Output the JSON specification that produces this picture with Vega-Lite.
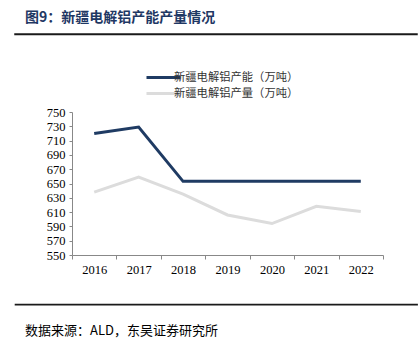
{
  "$schema": "https://vega.github.io/schema/vega-lite/v6.json",
  "background": "white",
  "padding": {"left": 14, "top": 10, "right": 4, "bottom": 0},
  "spacing": 25,
  "center": false,
  "resolve": {"legend": {"color": "independent"}},
  "config": {"view": {"stroke": null}, "legend": {"layout": {"top": {"anchor": "middle"}}}},
  "vconcat": [
    {
      "width": 402,
      "height": 0.5,
      "data": {"values": []},
      "mark": "point",
      "view": {"stroke": "#1a1a1a", "strokeWidth": 1.5},
      "title": {"text": "图9：新疆电解铝产能产量情况", "anchor": "start", "dx": 10, "offset": 9, "font": "Noto Sans CJK SC", "fontSize": 14, "fontWeight": "bold", "color": "#1F3864"}
    },
    {
      "resolve": {"legend": {"color": "independent"}},
      "spacing": 0,
      "hconcat": [
        {
          "width": 0.5,
          "height": 143,
          "data": {"values": []},
          "mark": "point"
        },
        {
          "width": 311,
          "height": 143,
          "data": {"values": [
            {"year": "2016", "series": "新疆电解铝产能（万吨）", "value": 720},
            {"year": "2017", "series": "新疆电解铝产能（万吨）", "value": 729},
            {"year": "2018", "series": "新疆电解铝产能（万吨）", "value": 653},
            {"year": "2019", "series": "新疆电解铝产能（万吨）", "value": 653},
            {"year": "2020", "series": "新疆电解铝产能（万吨）", "value": 653},
            {"year": "2021", "series": "新疆电解铝产能（万吨）", "value": 653},
            {"year": "2022", "series": "新疆电解铝产能（万吨）", "value": 653},
            {"year": "2016", "series": "新疆电解铝产量（万吨）", "value": 638},
            {"year": "2017", "series": "新疆电解铝产量（万吨）", "value": 659},
            {"year": "2018", "series": "新疆电解铝产量（万吨）", "value": 635},
            {"year": "2019", "series": "新疆电解铝产量（万吨）", "value": 606},
            {"year": "2020", "series": "新疆电解铝产量（万吨）", "value": 594},
            {"year": "2021", "series": "新疆电解铝产量（万吨）", "value": 618},
            {"year": "2022", "series": "新疆电解铝产量（万吨）", "value": 611}
          ]},
          "mark": {"type": "line", "strokeWidth": 3},
          "encoding": {
            "x": {"field": "year", "type": "ordinal", "scale": {"type": "band", "paddingInner": 0, "paddingOuter": 0},
              "axis": {"title": null, "minExtent": 23, "labelAngle": 0, "tickBand": "extent", "domainColor": "#888888", "tickColor": "#888888", "tickSize": 4, "labelFont": "Liberation Serif", "labelFontSize": 12.5, "labelColor": "#000000", "labelPadding": 4}},
            "y": {"field": "value", "type": "quantitative", "scale": {"domain": [550, 750], "zero": false, "nice": false},
              "axis": {"title": null, "minExtent": 55.5, "values": [550, 570, 590, 610, 630, 650, 670, 690, 710, 730, 750], "grid": false, "domainColor": "#888888", "tickColor": "#888888", "tickSize": 3, "labelFont": "Liberation Serif", "labelFontSize": 12.5, "labelColor": "#000000", "labelPadding": 4}},
            "color": {"field": "series", "type": "nominal",
              "scale": {"domain": ["新疆电解铝产能（万吨）", "新疆电解铝产量（万吨）"], "range": ["#1F3B63", "#DCDCDC"]},
              "legend": {"title": null, "orient": "top", "direction": "vertical", "symbolType": "M-3.4,0H3.4", "symbolSize": 100, "symbolStrokeWidth": 3, "labelFont": "Noto Sans CJK SC", "labelFontSize": 11.3, "labelColor": "#333333", "labelOffset": 4, "rowPadding": 3, "padding": 10, "offset": 2}}
          }
        }
      ]
    },
    {
      "width": 402,
      "height": 0.5,
      "data": {"values": []},
      "mark": "point",
      "view": {"stroke": "#1a1a1a", "strokeWidth": 1.2},
      "title": {"text": "数据来源：ALD，东吴证券研究所", "orient": "bottom", "anchor": "start", "dx": 10, "offset": 20, "font": "Noto Sans CJK SC", "fontSize": 13, "fontWeight": "normal", "color": "#000000"}
    }
  ]
}
